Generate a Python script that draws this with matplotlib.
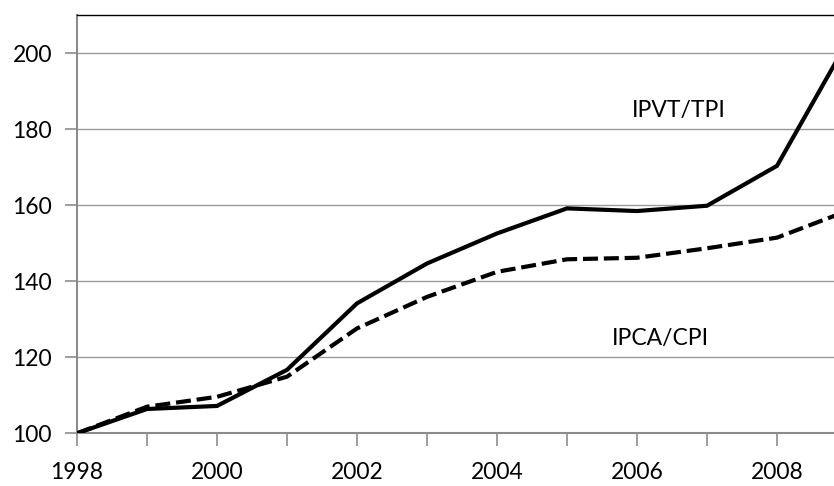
import matplotlib
matplotlib.use("Agg")
import matplotlib.pyplot as plt

years = [1998, 1999, 2000, 2001, 2002, 2003, 2004, 2005, 2006, 2007, 2008, 2009]
ipvt_tpi = [100, 106.4, 107.2, 116.7, 134.2, 144.7, 152.6, 159.2, 158.5, 159.9, 170.4, 202.9]
ipca_cpi = [100, 107.0, 109.6, 114.9, 127.6, 135.9, 142.5, 145.8, 146.2, 148.7, 151.5, 158.5]
y_ticks = [100, 120, 140, 160, 180, 200]
x_label_years = [1998, 2000, 2002, 2004, 2006, 2008]

plt.rcParams['font.family'] = ['Lato', 'DejaVu Sans']
FS = 16.5

fig = plt.figure(figsize=(8.34, 4.86), dpi=100)
ax = fig.add_axes([77/834, 1 - 433.3/486, 1 - 77/834, (433.3 - 15)/486])

ax.set_xlim(1998, 1998 + (834 - 77) / 70)
ax.set_ylim(100, 210.1)

for y in y_ticks[1:]:
    ax.axhline(y, color='#9a9a9a', lw=1.0, zorder=1)

ax.plot(years, ipvt_tpi, color='black', lw=3.0, solid_joinstyle='miter', zorder=3)
ax.plot(years, ipca_cpi, color='black', lw=3.0, linestyle=(0, (3.6, 1.4)),
        dash_capstyle='butt', zorder=3)

ax.annotate('IPVT/TPI', xy=(679, 486 - 110), xycoords='figure pixels',
            ha='center', va='center', fontsize=FS)
ax.annotate('IPCA/CPI', xy=(660, 486 - 338), xycoords='figure pixels',
            ha='center', va='center', fontsize=FS)

ax.set_yticks(y_ticks)
ax.set_yticklabels([str(v) for v in y_ticks], fontsize=FS)
ax.set_xticks(years[:-1])
ax.set_xticklabels([str(y) if y in x_label_years else '' for y in years[:-1]], fontsize=FS)

ax.tick_params(axis='both', direction='out', length=9, width=1.2, color='#8c8c8c')
ax.tick_params(axis='y', pad=9)
ax.tick_params(axis='x', pad=12)

for s in ['left', 'bottom']:
    ax.spines[s].set_color('#8c8c8c')
    ax.spines[s].set_linewidth(1.5)
ax.spines['top'].set_color('black')
ax.spines['top'].set_linewidth(1.0)
ax.spines['right'].set_visible(False)

fig.savefig('out.png', dpi=100)
